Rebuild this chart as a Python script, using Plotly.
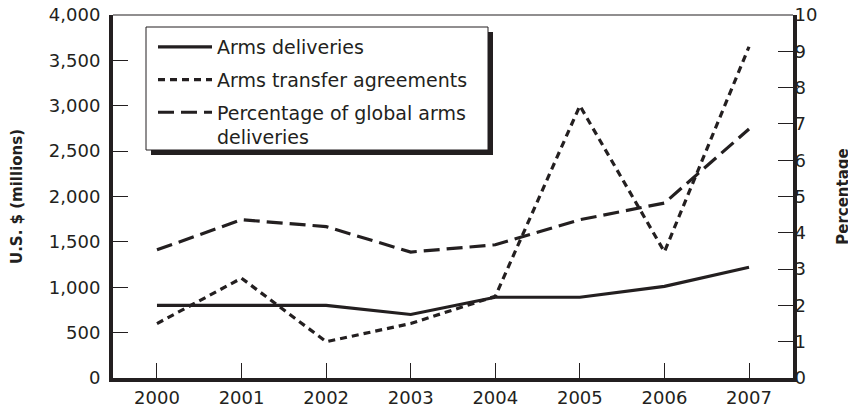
import plotly.graph_objects as go

years = [2000, 2001, 2002, 2003, 2004, 2005, 2006, 2007]
arms_deliveries = [800, 800, 800, 700, 890, 890, 1010, 1220]
arms_transfer = [600, 1100, 400, 600, 900, 3000, 1390, 3650]
pct_global = [3.53, 4.36, 4.17, 3.47, 3.67, 4.36, 4.82, 6.86]

left_ticks = [0, 500, 1000, 1500, 2000, 2500, 3000, 3500, 4000]
right_ticks = list(range(0, 11))

INK = "#231f20"
FONT = "DejaVu Sans"
FS = 18
LFS = 19
TFS = 15

fig = go.Figure()
fig.add_trace(go.Scatter(x=years, y=arms_deliveries, mode="lines", name="Arms deliveries",
                         legendgroup="a", line=dict(color=INK, width=3.2)))
fig.add_trace(go.Scatter(x=years, y=arms_transfer, mode="lines", name="Arms transfer agreements",
                         legendgroup="b", line=dict(color=INK, width=3.2, dash="7px,5px")))
fig.add_trace(go.Scatter(x=years, y=pct_global, mode="lines", yaxis="y2",
                         name="Percentage of global arms<br>deliveries",
                         legendgroup="c", line=dict(color=INK, width=3.2, dash="16px,7px")))

# target plot area in page pixels; page body adds an 8px offset
OFF = 8
PL, PR, PT, PB = 113, 793, 15, 378
W, H = 856, 411

def px_x(p):
    return (p - PL) / (PR - PL)

def px_y(p):
    return 1 - (p - PT) / (PB - PT)

fig.update_layout(
    width=W, height=H,
    margin=dict(l=PL - OFF, r=W - (PR - OFF), t=PT - OFF, b=H - (PB - OFF), autoexpand=False),
    paper_bgcolor="white", plot_bgcolor="white",
    font=dict(family=FONT, color=INK, size=FS),
    showlegend=True,
    legend=dict(x=px_x(153), y=px_y(28), xanchor="left", yanchor="top",
                bgcolor="rgba(0,0,0,0)", borderwidth=0,
                font=dict(size=LFS, family=FONT, color=INK),
                traceorder="grouped", tracegroupgap=5, itemwidth=54,
                valign="top"),
    xaxis=dict(range=[1999.48, 2007.52], tickvals=years, ticks="inside", ticklen=15,
               tickwidth=1, tickcolor=INK, showline=True, linewidth=4, linecolor=INK,
               showgrid=False, zeroline=False, tickfont=dict(size=FS),
               ticklabeloverflow="allow"),
    yaxis=dict(range=[0, 4000], tickvals=left_ticks, tickformat=",", ticks="inside",
               ticklen=15, tickwidth=1, tickcolor=INK, showline=True, linewidth=4,
               linecolor=INK, showgrid=False, zeroline=False, tickfont=dict(size=FS),
               ticklabelstandoff=5, ticklabeloverflow="allow",
               title=dict(text="<b>U.S. $ (millions)</b>", font=dict(size=TFS), standoff=25)),
    yaxis2=dict(range=[0, 10], tickvals=right_ticks, overlaying="y", side="right",
                ticks="inside", ticklen=15, tickwidth=1, tickcolor=INK, showline=True,
                linewidth=4, linecolor=INK, showgrid=False, zeroline=False,
                tickfont=dict(size=FS), ticklabelstandoff=-6, ticklabeloverflow="allow",
                title=dict(text="<b>Percentage</b>", font=dict(size=TFS), standoff=22)),
    shapes=[
        dict(type="line", xref="paper", yref="paper", x0=0, x1=1, y0=1, y1=1,
             line=dict(color=INK, width=1.2)),
        dict(type="rect", xref="paper", yref="paper", x0=px_x(151), x1=px_x(493),
             y0=px_y(155), y1=px_y(32), fillcolor=INK, line=dict(width=0), layer="above"),
        dict(type="rect", xref="paper", yref="paper", x0=px_x(146), x1=px_x(488),
             y0=px_y(150), y1=px_y(27), fillcolor="white", line=dict(color=INK, width=1),
             layer="above"),
    ],
)

fig.write_html("out.html")
